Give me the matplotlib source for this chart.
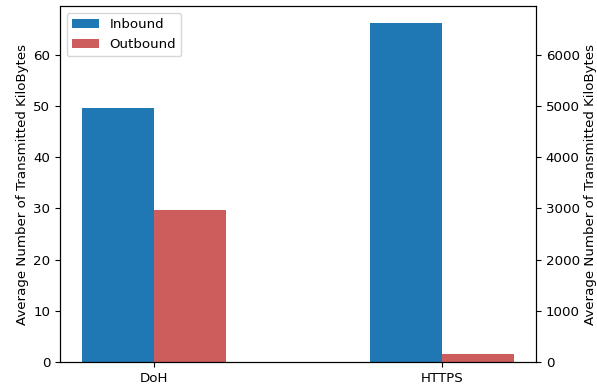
import numpy as np
import matplotlib
matplotlib.use("Agg")
import matplotlib.pyplot as plt

plt.rcParams["font.size"] = 9.6

categories = ["DoH", "HTTPS"]
inbound_kb = [49.6, 66.2]
outbound_kb = [29.6, 1.55]

x = np.arange(len(categories))
width = 0.25

fig = plt.figure(figsize=(5.97, 3.87), dpi=100)
ax = fig.add_axes([0.1005, 0.0646, 0.7975, 0.9194])

ax.bar(x - width / 2, inbound_kb, width, color="#1f77b4", label="Inbound")
ax.bar(x + width / 2, outbound_kb, width, color="indianred", label="Outbound")

ax.set_xticks(x)
ax.set_xticklabels(categories)
ax.set_xlim(-0.325, 1.325)
ylim_top = 66.2 * 1.05
ax.set_ylim(0, ylim_top)
ax.set_ylabel("Average Number of Transmitted KiloBytes", labelpad=3)
ax.legend(loc="upper left")

ax2 = ax.twinx()
ax2.set_ylim(0, ylim_top * 100)
ax2.set_ylabel("Average Number of Transmitted KiloBytes", labelpad=3)

fig.savefig("out.png", dpi=100)
